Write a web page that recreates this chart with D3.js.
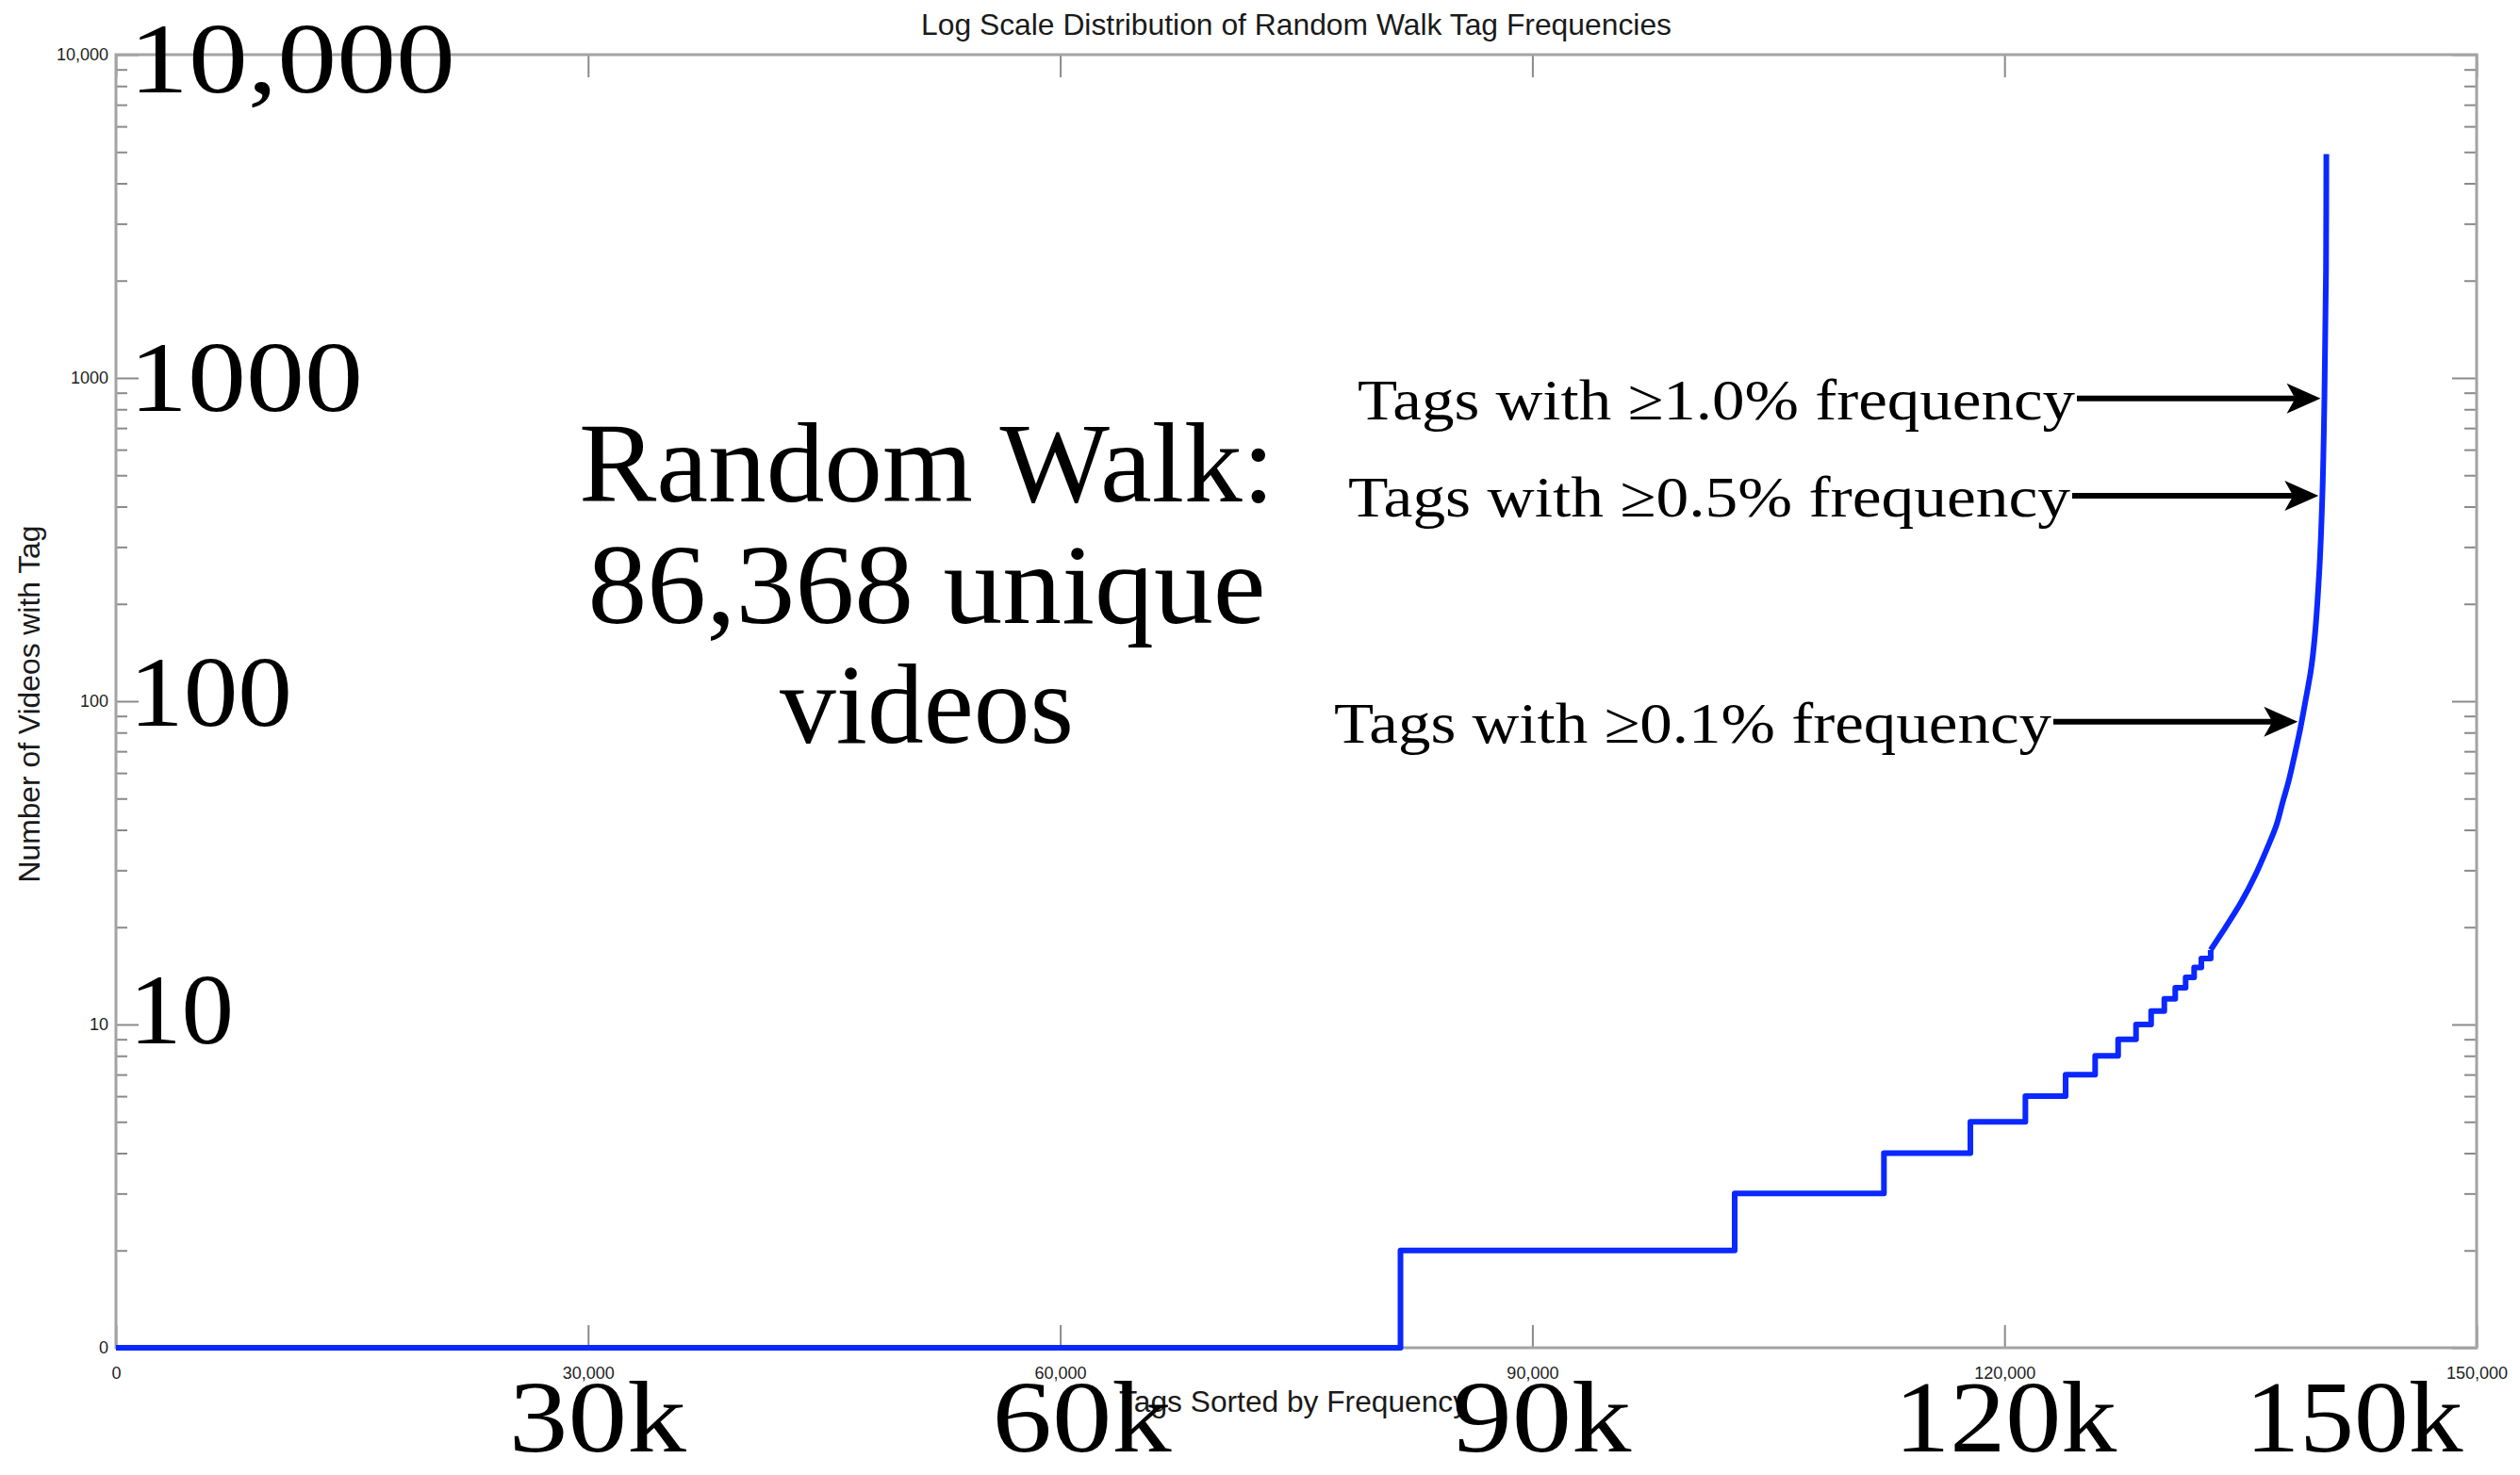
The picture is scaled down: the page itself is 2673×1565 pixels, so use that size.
<!DOCTYPE html>
<html>
<head>
<meta charset="utf-8">
<script src="https://cdn.jsdelivr.net/npm/d3@7"></script>
<style>
  html, body { margin: 0; padding: 0; background: #fff; }
  svg { display: block; }
</style>
</head>
<body>
<script>
// ---- data ---------------------------------------------------------------
// Sorted tag ranks where each integer count level begins (stepped region)
const stepRank  = [0, 81620, 102855, 112340, 117832, 121327, 123884, 125760, 127221,
                   128358, 129317, 130155, 130850, 131509, 132049, 132508, 133102];
const stepCount = [1, 2, 3, 4, 5, 6, 7, 8, 9, 10, 11, 12, 13, 14, 15, 16, 17];

// Head of the distribution (the most frequent tags)
const tailRank  = [133102, 133750, 135060, 135940, 136680, 137250, 137690, 138070,
                   138460, 138790, 139120, 139450, 139988, 140190, 140330, 140430, 140450];
const tailCount = [17, 19, 24, 29, 35, 41, 49, 57, 69, 82, 100, 123, 245, 422, 874, 2171, 4922];

const uniqueVideos = 86368;
const thresholdPct = [1.0, 0.5, 0.1];
const thresholdText = ["Tags with \u22651.0% frequency", "Tags with \u22650.5% frequency", "Tags with \u22650.1% frequency"];

const xTicks      = [0, 30000, 60000, 90000, 120000, 150000];
const xTickLabels = ["0", "30,000", "60,000", "90,000", "120,000", "150,000"];
const yTicks      = [1, 10, 100, 1000, 10000];
const yTickLabels = ["0", "10", "100", "1000", "10,000"];

const bigYValues = [10, 100, 1000, 10000];
const bigYLabels = ["10", "100", "1000", "10,000"];
const bigXValues = [30000, 60000, 90000, 120000, 150000];
const bigXLabels = ["30k", "60k", "90k", "120k", "150k"];

const titleText = "Log Scale Distribution of Random Walk Tag Frequencies";
const xTitle = "Tags Sorted by Frequency";
const yTitle = "Number of Videos with Tag";

// ---- layout -------------------------------------------------------------
const W = 2673, H = 1565;
const plot = { left: 123, right: 2627, top: 58, bottom: 1430 };
const axisColor = "#a3a3a3";
const tickColor = "#8a8a8a";
const lineColor = "#0a28ff";
const serif = "'Liberation Serif', 'DejaVu Serif', serif";
const sans = "'Liberation Sans', Arial, Helvetica, sans-serif";

const svg = d3.select("body").append("svg")
  .attr("width", W).attr("height", H)
  .attr("viewBox", `0 0 ${W} ${H}`);

svg.append("rect").attr("width", W).attr("height", H).attr("fill", "#fff");

const x = d3.scaleLinear().domain([0, 150000]).range([plot.left, plot.right]);
const y = d3.scaleLog().domain([1, 10000]).range([plot.bottom, plot.top]);

const minorY = [];
for (let dec = 1; dec < 10000; dec *= 10)
  for (let m = 2; m <= 9; m++) minorY.push(m * dec);

function styleAxis(g) {
  g.select(".domain").remove();
  g.selectAll(".tick line").attr("stroke", tickColor).attr("stroke-width", 2);
  g.selectAll(".tick text")
    .attr("font-family", sans).attr("font-size", 18).attr("fill", "#222");
}

// bottom axis
svg.append("g")
  .attr("transform", `translate(0,${plot.bottom})`)
  .call(d3.axisBottom(x).tickValues(xTicks).tickFormat((d, i) => xTickLabels[i])
        .tickSizeInner(-24).tickSizeOuter(0).tickPadding(20))
  .call(styleAxis);

// top axis (ticks only)
svg.append("g")
  .attr("transform", `translate(0,${plot.top})`)
  .call(d3.axisTop(x).tickValues(xTicks).tickFormat("")
        .tickSizeInner(-24).tickSizeOuter(0))
  .call(styleAxis);

// left axis: major + minor
svg.append("g")
  .attr("transform", `translate(${plot.left},0)`)
  .call(d3.axisLeft(y).tickValues(yTicks).tickFormat((d, i) => yTickLabels[i])
        .tickSizeInner(-24).tickSizeOuter(0).tickPadding(8))
  .call(styleAxis);
svg.append("g")
  .attr("transform", `translate(${plot.left},0)`)
  .call(d3.axisLeft(y).tickValues(minorY).tickFormat("")
        .tickSizeInner(-12).tickSizeOuter(0))
  .call(styleAxis);

// right axis: major + minor
svg.append("g")
  .attr("transform", `translate(${plot.right},0)`)
  .call(d3.axisRight(y).tickValues(yTicks).tickFormat("")
        .tickSizeInner(-26).tickSizeOuter(0))
  .call(styleAxis);
svg.append("g")
  .attr("transform", `translate(${plot.right},0)`)
  .call(d3.axisRight(y).tickValues(minorY).tickFormat("")
        .tickSizeInner(-13).tickSizeOuter(0))
  .call(styleAxis);

// plot frame
svg.append("rect")
  .attr("x", plot.left).attr("y", plot.top)
  .attr("width", plot.right - plot.left).attr("height", plot.bottom - plot.top)
  .attr("fill", "none").attr("stroke", axisColor).attr("stroke-width", 3);

// titles
svg.append("text")
  .attr("x", (plot.left + plot.right) / 2).attr("y", 37)
  .attr("text-anchor", "middle")
  .attr("font-family", sans).attr("font-size", 32).attr("fill", "#1a1a1a")
  .attr("textLength", 796).attr("lengthAdjust", "spacingAndGlyphs")
  .text(titleText);

svg.append("text")
  .attr("x", 1372).attr("y", 1498)
  .attr("text-anchor", "middle")
  .attr("font-family", sans).attr("font-size", 31).attr("fill", "#1a1a1a")
  .attr("textLength", 370).attr("lengthAdjust", "spacingAndGlyphs")
  .text(xTitle);

svg.append("text")
  .attr("transform", `translate(42,${(plot.top + plot.bottom) / 2 + 3}) rotate(-90)`)
  .attr("text-anchor", "middle")
  .attr("font-family", sans).attr("font-size", 31).attr("fill", "#1a1a1a")
  .attr("textLength", 379).attr("lengthAdjust", "spacingAndGlyphs")
  .text(yTitle);

// ---- distribution curve ----------------------------------------------------
const stepPts = stepRank.map((r, i) => [r, stepCount[i]]);
// the head is drawn top-down so that screen y increases along the path
const tailPts = tailRank.map((r, i) => [r, tailCount[i]]).reverse();

const stepLine = d3.line().x(d => x(d[0])).y(d => y(d[1])).curve(d3.curveStepAfter);
const tailLine = d3.line().x(d => x(d[0])).y(d => y(d[1])).curve(d3.curveMonotoneY);

const curveG = svg.append("g")
  .attr("fill", "none").attr("stroke", lineColor).attr("stroke-width", 6)
  .attr("stroke-linejoin", "round");
curveG.append("path").attr("d", stepLine(stepPts));
curveG.append("path").attr("d", tailLine(tailPts)).attr("stroke-linecap", "butt");

// ---- threshold annotations ---------------------------------------------------
// rank on the head of the curve where the count reaches a given value
function rankAtCount(c) {
  for (let i = 1; i < tailCount.length; i++) {
    if (tailCount[i] >= c) {
      const t = (Math.log(c) - Math.log(tailCount[i - 1])) /
                (Math.log(tailCount[i]) - Math.log(tailCount[i - 1]));
      return tailRank[i - 1] + t * (tailRank[i] - tailRank[i - 1]);
    }
  }
  return tailRank[tailRank.length - 1];
}

const arrowStartX = [2203, 2198, 2178];
const labelWidth = [761, 766, 761];
const ann = svg.append("g");
thresholdPct.forEach((p, i) => {
  const count = uniqueVideos * p / 100;
  const ay = y(count);
  const tipX = x(rankAtCount(count)) - 4;
  const x0 = arrowStartX[i];
  ann.append("line")
    .attr("x1", x0).attr("x2", tipX - 26)
    .attr("y1", ay).attr("y2", ay)
    .attr("stroke", "#000").attr("stroke-width", 6);
  ann.append("path")
    .attr("d", `M${tipX},${ay} L${tipX - 36},${ay - 16} L${tipX - 27},${ay} L${tipX - 36},${ay + 16} Z`)
    .attr("fill", "#000");
  ann.append("text")
    .attr("x", x0 - 2).attr("y", ay + 22)
    .attr("text-anchor", "end")
    .attr("font-family", serif).attr("font-size", 62).attr("fill", "#000")
    .attr("textLength", labelWidth[i]).attr("lengthAdjust", "spacingAndGlyphs")
    .text(thresholdText[i]);
});

// ---- headline block ---------------------------------------------------------
const headline = ["Random Walk:", `${d3.format(",")(uniqueVideos)} unique`, "videos"];
const headBase = [532, 661, 788];
const headWidth = [738, 719, 312];
svg.append("g").selectAll("text").data(headline).join("text")
  .attr("x", 983).attr("y", (d, i) => headBase[i])
  .attr("text-anchor", "middle")
  .attr("font-family", serif).attr("font-size", 121).attr("fill", "#000")
  .attr("textLength", (d, i) => headWidth[i]).attr("lengthAdjust", "spacingAndGlyphs")
  .text(d => d);

// ---- large axis call-outs ---------------------------------------------------
const bigYDy = [20, 26, 35, 40];
const bigYWidth = [111, 173, 248, 346];
svg.append("g").selectAll("text").data(bigYValues).join("text")
  .attr("x", 137).attr("y", (d, i) => y(d) + bigYDy[i])
  .attr("font-family", serif).attr("font-size", 106).attr("fill", "#000")
  .attr("textLength", (d, i) => bigYWidth[i]).attr("lengthAdjust", "spacingAndGlyphs")
  .text((d, i) => bigYLabels[i]);

const bigXDx = [10, 23, 10, 1, -130];
const bigXWidth = [188, 190, 190, 236, 231];
svg.append("g").selectAll("text").data(bigXValues).join("text")
  .attr("x", (d, i) => x(d) + bigXDx[i]).attr("y", 1540)
  .attr("text-anchor", "middle")
  .attr("font-family", serif).attr("font-size", 108).attr("fill", "#000")
  .attr("textLength", (d, i) => bigXWidth[i]).attr("lengthAdjust", "spacingAndGlyphs")
  .text((d, i) => bigXLabels[i]);
</script>
</body>
</html>
